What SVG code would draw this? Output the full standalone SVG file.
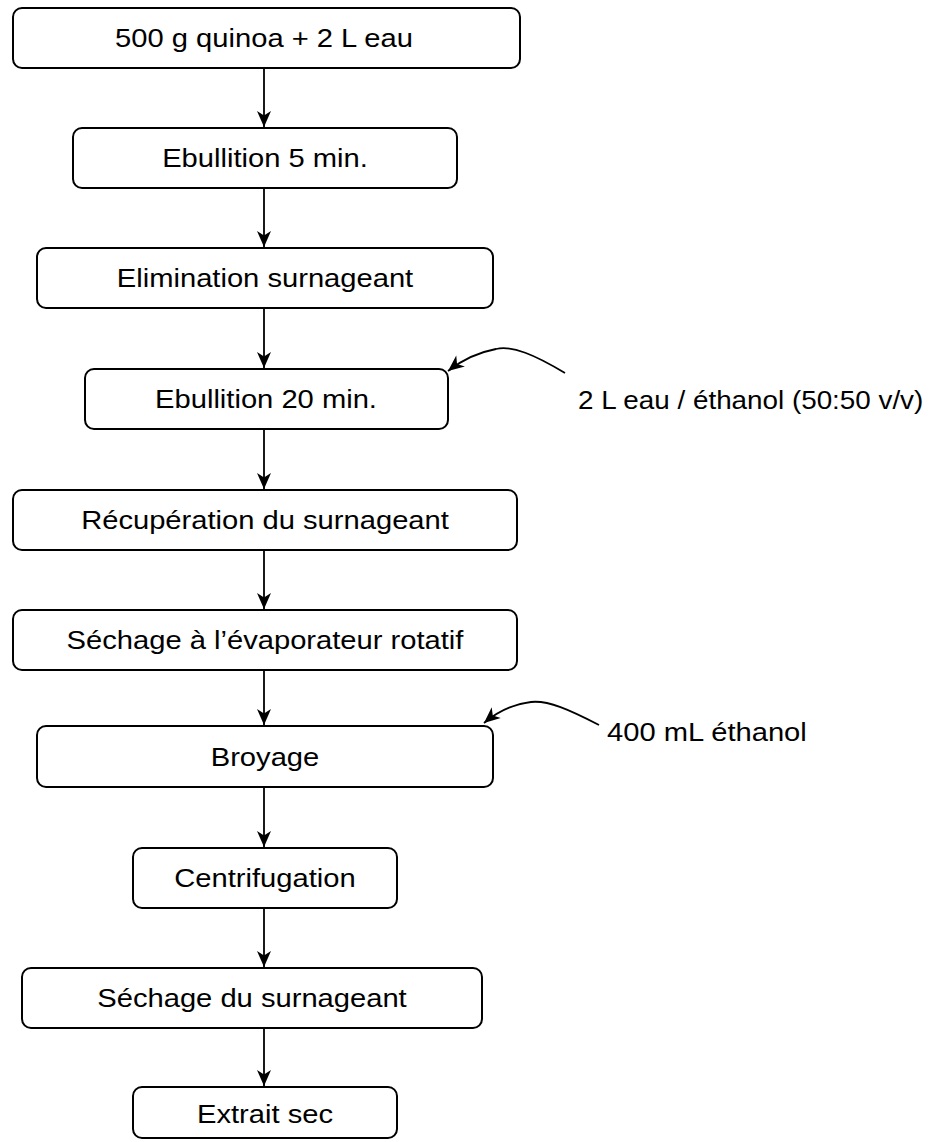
<svg xmlns="http://www.w3.org/2000/svg" width="938" height="1142" viewBox="0 0 938 1142">
  <style>
    .box { fill: #ffffff; stroke: #000000; stroke-width: 2; }
    .lbl { font-family: "Liberation Sans", Arial, sans-serif; font-size: 26.5px; fill: #000000; text-anchor: middle; }
    .side { font-family: "Liberation Sans", Arial, sans-serif; font-size: 26.5px; fill: #000000; }
    .edge { fill: none; stroke: #000000; stroke-width: 1.8; }
  </style>
  <defs>
    <marker id="arrow" markerUnits="userSpaceOnUse" viewBox="-17 -8 18 16" refX="0" refY="0" markerWidth="18" markerHeight="16" orient="auto">
      <path d="M -16 -7 L 0 0 L -16 7 L -11.5 0 Z" fill="#000000"/>
    </marker>
  </defs>

  <!-- process steps (labels slightly widened horizontally) -->
  <g id="step-1"><rect class="box" x="13" y="8" width="507" height="60" rx="9"/><text class="lbl" transform="matrix(1.1 0 0 1 264 47)">500 g quinoa + 2 L eau</text></g>
  <g id="step-2"><rect class="box" x="73" y="128" width="384" height="60" rx="9"/><text class="lbl" transform="matrix(1.1 0 0 1 265 167)">Ebullition 5 min.</text></g>
  <g id="step-3"><rect class="box" x="37" y="248" width="456" height="60" rx="9"/><text class="lbl" transform="matrix(1.1 0 0 1 265 287)">Elimination surnageant</text></g>
  <g id="step-4"><rect class="box" x="85" y="369" width="363" height="60" rx="9"/><text class="lbl" transform="matrix(1.1 0 0 1 266 408)">Ebullition 20 min.</text></g>
  <g id="step-5"><rect class="box" x="13" y="490" width="504" height="60" rx="9"/><text class="lbl" transform="matrix(1.1 0 0 1 265 529)">Récupération du surnageant</text></g>
  <g id="step-6"><rect class="box" x="13" y="610" width="504" height="60" rx="9"/><text class="lbl" transform="matrix(1.1 0 0 1 265 649)">Séchage à l’évaporateur rotatif</text></g>
  <g id="step-7"><rect class="box" x="37" y="726" width="456" height="61" rx="9"/><text class="lbl" transform="matrix(1.1 0 0 1 265 766)">Broyage</text></g>
  <g id="step-8"><rect class="box" x="133" y="848" width="264" height="60" rx="9"/><text class="lbl" transform="matrix(1.1 0 0 1 265 887)">Centrifugation</text></g>
  <g id="step-9"><rect class="box" x="22" y="968" width="460" height="60" rx="9"/><text class="lbl" transform="matrix(1.1 0 0 1 252 1007)">Séchage du surnageant</text></g>
  <g id="step-10"><rect class="box" x="133" y="1087" width="264" height="51" rx="9"/><text class="lbl" transform="matrix(1.1 0 0 1 265 1123)">Extrait sec</text></g>

  <!-- added inputs -->
  <g id="input-1"><text class="side" transform="matrix(1.05 0 0 1 578 409)">2 L eau / éthanol (50:50 v/v)</text></g>
  <g id="input-2"><text class="side" transform="matrix(1.1 0 0 1 607 741)">400 mL éthanol</text></g>

  <!-- connectors -->
  <g id="connectors">
    <path class="edge" d="M 264 68 L 264 127" marker-end="url(#arrow)"/>
    <path class="edge" d="M 264 188 L 264 247" marker-end="url(#arrow)"/>
    <path class="edge" d="M 264 308 L 264 368" marker-end="url(#arrow)"/>
    <path class="edge" d="M 264 429 L 264 489" marker-end="url(#arrow)"/>
    <path class="edge" d="M 264 550 L 264 609" marker-end="url(#arrow)"/>
    <path class="edge" d="M 264 670 L 264 725" marker-end="url(#arrow)"/>
    <path class="edge" d="M 264 787 L 264 847" marker-end="url(#arrow)"/>
    <path class="edge" d="M 264 908 L 264 967" marker-end="url(#arrow)"/>
    <path class="edge" d="M 264 1028 L 264 1086" marker-end="url(#arrow)"/>
    <path class="edge" d="M 565 373 C 535 355 512 345 496 349 C 480 352 462 360 448 371" marker-end="url(#arrow)"/>
    <path class="edge" d="M 599 725 C 570 710 548 700 531 702 C 514 704 497 712 484 723" marker-end="url(#arrow)"/>
  </g>
</svg>
